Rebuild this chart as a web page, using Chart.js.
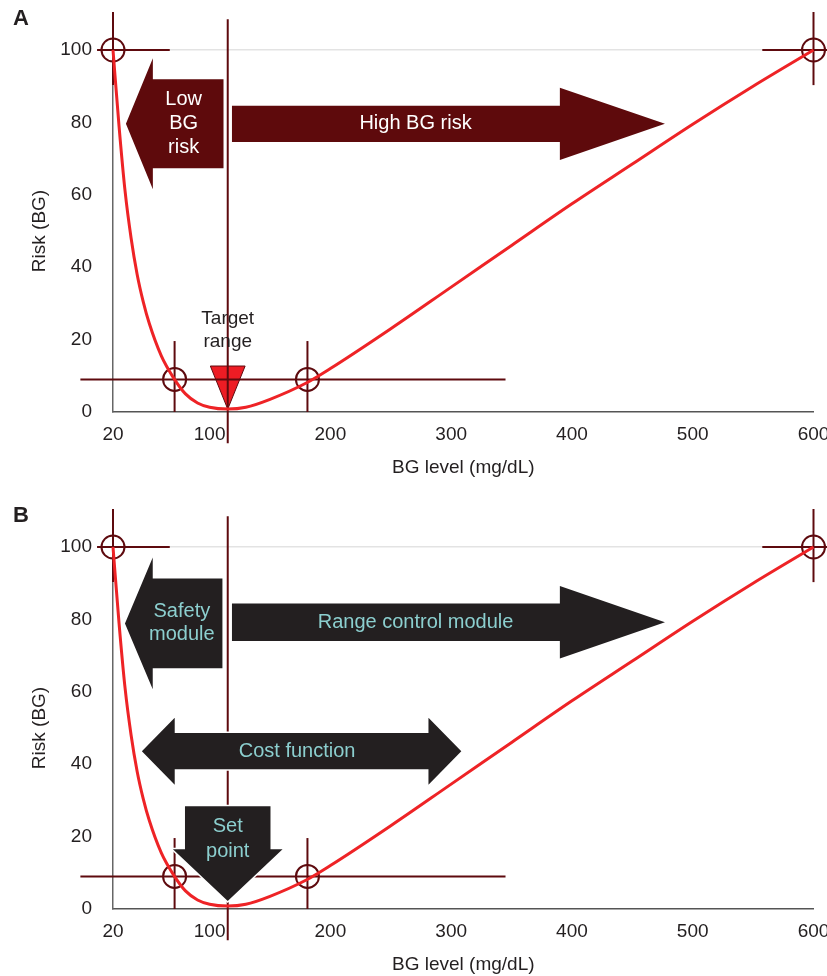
<!DOCTYPE html>
<html>
<head>
<meta charset="utf-8">
<script src="https://cdn.jsdelivr.net/npm/chart.js@4.4.1/dist/chart.umd.min.js"></script>
<style>
  html, body { margin: 0; padding: 0; background: #fff; overflow: hidden; }
  .panel { position: relative; width: 827px; height: 497px; }
  .panel canvas { display: block; }
  .tag { position: absolute; left: 13px; top: 5px; font: bold 22px "Liberation Sans", Arial, sans-serif; color: #231f20; }
</style>
</head>
<body>
<div class="panel"><span class="tag">A</span><canvas id="chartA" width="827" height="497"></canvas></div>
<div class="panel"><span class="tag">B</span><canvas id="chartB" width="827" height="497"></canvas></div>
<script>
// risk curve
const bgLevels = [20, 25, 30, 35, 40, 45, 50, 60, 70, 80, 90, 100, 115, 130, 150, 180, 200, 250, 300, 350, 400, 450, 500, 550, 600];
const riskValues = [100, 79, 61, 48, 38, 30.5, 24.5, 15.5, 9.5, 5, 2.5, 1.3, 0.8, 1.3, 3.5, 8, 12, 23, 34.5, 46, 57.5, 68.5, 79.5, 90, 100];

// marked points (open circles)
const markerBG = [20, 71, 181, 600];
const markerRisk = [100, 9, 9, 100];

const xTicks = [20, 100, 200, 300, 400, 500, 600];
const yTicks = [0, 20, 40, 60, 80, 100];

const setPointBG = 115;

const FONT = '"Liberation Sans", Arial, sans-serif';
const DARK_RED = '#5e0a0e';
const CURVE_RED = '#ee2326';
const TEXT = '#231f20';

// crosshair lines, in data units: [x1, y1, x2, y2]
const crossLines = [
  [20, 110.5, 20, 90.3], [6.8, 100, 67, 100],
  [600, 110.5, 600, 90.3], [557.6, 100, 612, 100],
  [-7, 9, 345, 9],
  [71, 19.6, 71, 0], [181, 19.6, 181, 0],
  [setPointBG, 108.5, setPointBG, -8.6]
];

// panel A annotations
const panelA = {
  fill: '#5e0a0c',
  textColor: '#ffffff',
  arrows: [
    { from: 111.5, to: 30.7, c: 79.6, body: 12.3, head: 18.1, headLen: 22.3, text: ['Low', 'BG', 'risk'], t: 78.5, lh: 24 },
    { from: 118.5, to: 477, c: 79.6, body: 5, head: 10, headLen: 87, text: ['High BG risk'], t: 270.5, lh: 24 }
  ],
  triangle: { x: setPointBG, top: 12.7, tip: 0.8, half: 14.4 },
  label: { x: setPointBG, y: 22.6, text: ['Target', 'range'], lh: 23 }
};

// panel B annotations
const panelB = {
  fill: '#231f20',
  textColor: '#8ccfcf',
  arrows: [
    { from: 110.6, to: 29.9, c: 78.9, body: 12.4, head: 18.2, headLen: 23, text: ['Safety', 'module'], t: 77, lh: 23 },
    { from: 118.5, to: 477, c: 79.2, body: 5.2, head: 10, headLen: 87, text: ['Range control module'], t: 270.5, lh: 24 },
    { from: 43.9, to: 308.4, c: 43.6, body: 5, head: 9.25, headLen: 27.2, both: true, text: ['Cost function'], t: 172.4, lh: 24 },
    { vertical: true, from: 28.4, to: 2.2, c: setPointBG, body: 35.4, head: 45.4, headLen: 14.3, text: ['Set', 'point'], t: 19.4, lh: 25 }
  ]
};

function arrowPoints(a) {
  const s = Math.sign(a.to - a.from);
  const c = a.c;
  if (a.both) {
    const b1 = a.from + s * a.headLen, b2 = a.to - s * a.headLen;
    return [[a.from, c], [b1, c + a.head], [b1, c + a.body], [b2, c + a.body], [b2, c + a.head], [a.to, c],
            [b2, c - a.head], [b2, c - a.body], [b1, c - a.body], [b1, c - a.head]];
  }
  const b = a.to - s * a.headLen;
  return [[a.from, c + a.body], [b, c + a.body], [b, c + a.head], [a.to, c],
          [b, c - a.head], [b, c - a.body], [a.from, c - a.body]];
}

function drawLines(ctx, lines, px, py) {
  lines.forEach(l => {
    ctx.beginPath();
    ctx.moveTo(px(l[0]), py(l[1]));
    ctx.lineTo(px(l[2]), py(l[3]));
    ctx.stroke();
  });
}

function drawTextLines(ctx, lines, cx, cy, lh) {
  const start = cy - (lines.length - 1) * lh / 2;
  lines.forEach((t, i) => ctx.fillText(t, cx, start + i * lh));
}

const annotate = {
  id: 'annotate',
  beforeDatasetsDraw(chart, args, opts) {
    const { ctx, scales: { x, y } } = chart;
    const px = v => x.getPixelForValue(v);
    const py = v => y.getPixelForValue(v);
    const panel = opts.panel;
    ctx.save();

    // target triangle sits under the lines
    if (panel.triangle) {
      const t = panel.triangle;
      ctx.beginPath();
      ctx.moveTo(px(t.x - t.half), py(t.top));
      ctx.lineTo(px(t.x + t.half), py(t.top));
      ctx.lineTo(px(t.x), py(t.tip));
      ctx.closePath();
      ctx.fillStyle = '#ed1c24';
      ctx.fill();
      ctx.strokeStyle = DARK_RED;
      ctx.lineWidth = 1;
      ctx.stroke();
    }

    ctx.strokeStyle = DARK_RED;
    ctx.lineWidth = 2;
    drawLines(ctx, crossLines, px, py);

    // arrows
    panel.arrows.forEach(a => {
      const pts = arrowPoints(a).map(p => a.vertical ? [px(p[1]), py(p[0])] : [px(p[0]), py(p[1])]);
      ctx.beginPath();
      pts.forEach((p, i) => i ? ctx.lineTo(p[0], p[1]) : ctx.moveTo(p[0], p[1]));
      ctx.closePath();
      ctx.strokeStyle = '#ffffff';
      ctx.lineWidth = 3;
      ctx.lineJoin = 'miter';
      ctx.stroke();
      ctx.fillStyle = panel.fill;
      ctx.fill();

      ctx.fillStyle = panel.textColor;
      ctx.font = '20px ' + FONT;
      ctx.textAlign = 'center';
      ctx.textBaseline = 'middle';
      if (a.vertical) drawTextLines(ctx, a.text, px(a.c), py(a.t), a.lh);
      else drawTextLines(ctx, a.text, px(a.t), py(a.c), a.lh);
    });

    if (panel.label) {
      const l = panel.label;
      ctx.fillStyle = TEXT;
      ctx.font = '19px ' + FONT;
      ctx.textAlign = 'center';
      ctx.textBaseline = 'middle';
      drawTextLines(ctx, l.text, px(l.x), py(l.y), l.lh);
    }
    ctx.restore();
  }
};

function makeChart(id, panel) {
  const ctx = document.getElementById(id);
  return new Chart(ctx, {
    type: 'scatter',
    data: {
      datasets: [
        {
          label: 'Risk',
          data: bgLevels.map((v, i) => ({ x: v, y: riskValues[i] })),
          showLine: true,
          borderColor: CURVE_RED,
          borderWidth: 3,
          pointRadius: 0,
          cubicInterpolationMode: 'monotone',
          clip: false,
          order: 0
        },
        {
          label: 'Marks',
          data: markerBG.map((v, i) => ({ x: v, y: markerRisk[i] })),
          pointRadius: 11.5,
          pointBorderWidth: 2,
          pointBorderColor: DARK_RED,
          pointBackgroundColor: 'rgba(0,0,0,0)',
          clip: false,
          order: 1
        }
      ]
    },
    options: {
      responsive: false,
      animation: false,
      devicePixelRatio: 1,
      layout: { padding: { top: 50, right: 10, left: 0, bottom: 0 } },
      plugins: {
        legend: { display: false },
        tooltip: { enabled: false },
        annotate: { panel: panel }
      },
      scales: {
        x: {
          type: 'linear',
          min: 20,
          max: 600,
          afterBuildTicks: s => { s.ticks = xTicks.map(v => ({ value: v })); },
          afterFit: s => { s.height = 85; s.paddingLeft = 0; s.paddingRight = 0; },
          grid: { display: false, drawTicks: false },
          border: { color: '#555', width: 1.5 },
          ticks: { autoSkip: false, maxRotation: 0, padding: 11, color: TEXT, font: { family: FONT, size: 19 } },
          title: { display: true, text: 'BG level (mg/dL)', color: TEXT, font: { family: FONT, size: 19 }, padding: { top: 0, bottom: 18 } }
        },
        y: {
          min: 0,
          max: 100,
          afterBuildTicks: s => { s.ticks = yTicks.map(v => ({ value: v })); },
          afterFit: s => { s.width = 113; s.paddingTop = 0; s.paddingBottom = 0; },
          grid: {
            drawTicks: false,
            color: c => c.tick && c.tick.value === 100 ? '#e3e3e3' : 'rgba(0,0,0,0)',
            lineWidth: 1.5
          },
          border: { color: '#666', width: 1.5 },
          ticks: { padding: 21, color: TEXT, font: { family: FONT, size: 19 } },
          title: { display: true, text: 'Risk (BG)', color: TEXT, font: { family: FONT, size: 19 }, padding: { top: 28, bottom: 0 } }
        }
      }
    },
    plugins: [annotate]
  });
}

makeChart('chartA', panelA);
makeChart('chartB', panelB);
</script>
</body>
</html>
